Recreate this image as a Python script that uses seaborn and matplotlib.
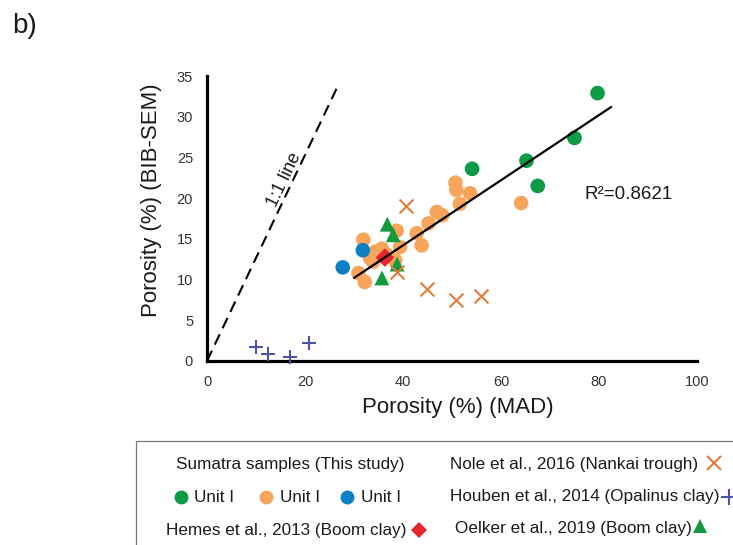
import numpy as np
import matplotlib
matplotlib.use("Agg")
import matplotlib.pyplot as plt
from matplotlib.lines import Line2D
from matplotlib.patches import Rectangle
import seaborn as sns

# Sumatra samples (this study): MAD porosity vs BIB-SEM porosity (%)
green_mad = [54.1, 65.2, 67.5, 75.0, 79.7]
green_bib = [23.6, 24.6, 21.5, 27.4, 32.9]

orange_mad = [30.9, 32.2, 31.9, 33.3, 33.9, 34.3, 35.0, 35.7, 36.8, 38.4,
              38.7, 39.4, 42.8, 43.8, 45.2, 46.9, 48.0, 50.7, 50.9, 51.6,
              53.7, 64.1]
orange_bib = [10.8, 9.7, 14.9, 12.6, 12.2, 13.4, 12.9, 13.8, 13.0, 12.4,
              16.0, 14.0, 15.7, 14.2, 16.9, 18.3, 17.9, 21.9, 21.0, 19.3,
              20.6, 19.4]

blue_mad = [27.7, 31.8]
blue_bib = [11.5, 13.6]

# Published data sets
nole_mad = [40.6, 38.8, 44.8, 50.8, 55.9]
nole_bib = [19.0, 10.9, 8.9, 7.5, 8.0]
houben_mad = [10.0, 12.4, 16.9, 20.9]
houben_bib = [1.7, 0.8, 0.5, 2.2]
hemes_mad = [36.3]
hemes_bib = [12.7]
oelker_mad = [36.8, 38.0, 38.8, 35.7]
oelker_bib = [16.8, 15.5, 11.9, 10.2]

# Linear trend through the Sumatra samples
fit_slope = 0.40
fit_intercept = -1.8
fit_range = [30.0, 82.5]
r_squared = 0.8621

# Reference line
ref_x = [0.0, 26.8]
ref_y = [0.0, 33.9]

x_ticks = [0, 20, 40, 60, 80, 100]
y_ticks = [0, 5, 10, 15, 20, 25, 30, 35]

# Colours
c_green = "#0f9a45"
c_orange = "#f6a55b"
c_blue = "#0b80c6"
c_cross = "#e27c3a"
c_plus = "#4d55a3"
c_red = "#e3262b"
c_tri = "#129a3c"

sns.set_theme(style="white")
plt.rcParams["font.family"] = ["Liberation Sans", "DejaVu Sans"]

W, H = 733, 545
fig = plt.figure(figsize=(W / 100, H / 100), dpi=100)


def fx(px):
    return px / W


def fy(py):
    return 1 - py / H


ax = fig.add_axes([fx(207), fy(361), (697 - 207) / W, (361 - 76) / H])
ax.set_xlim(0, 100)
ax.set_ylim(0, 35)

# 1:1 reference line
ax.plot(ref_x, ref_y, color="black", lw=1.5, linestyle=(0, (5.5, 3.2)), zorder=2)

sc_kw = dict(ax=ax, linewidth=0, edgecolor="none", legend=False, clip_on=False)
sns.scatterplot(x=orange_mad, y=orange_bib, color=c_orange, s=110, marker="o", zorder=3, **sc_kw)
sns.scatterplot(x=blue_mad, y=blue_bib, color=c_blue, s=110, marker="o", zorder=3, **sc_kw)
sns.scatterplot(x=green_mad, y=green_bib, color=c_green, s=112, marker="o", zorder=3, **sc_kw)
sns.scatterplot(x=oelker_mad, y=oelker_bib, color=c_tri, s=115, marker="^", zorder=4, **sc_kw)
sns.scatterplot(x=hemes_mad, y=hemes_bib, color=c_red, s=90, marker="D", zorder=4, **sc_kw)
ax.scatter(nole_mad, nole_bib, color=c_cross, s=100, marker="x", linewidths=1.5, zorder=4, clip_on=False)
ax.scatter(houben_mad, houben_bib, color=c_plus, s=95, marker="+", linewidths=1.5, zorder=4, clip_on=False)

# Trend line
fit_x = np.array(fit_range)
fit_y = fit_slope * fit_x + fit_intercept
sns.lineplot(x=fit_x, y=fit_y, ax=ax, color="black", lw=1.6, zorder=5)

ax.text(77.1, 20.4, f"R\u00b2={r_squared}", fontsize=13.5, ha="left", va="center", color="#1a1a1a")

# Rotated label along the reference line
fig.canvas.draw()
p0 = ax.transData.transform((ref_x[0], ref_y[0]))
p1 = ax.transData.transform((ref_x[1], ref_y[1]))
ang = np.degrees(np.arctan2(p1[1] - p0[1], p1[0] - p0[0]))
ax.text(15.8, 22.2, "1:1 line", rotation=ang, rotation_mode="anchor",
        ha="center", va="center", fontsize=13, color="#1a1a1a")

# Axes styling
ax.set_xticks(x_ticks)
ax.set_yticks(y_ticks)
ax.tick_params(axis="both", length=0, labelsize=10.5, colors="#333333")
ax.tick_params(axis="x", pad=10)
ax.tick_params(axis="y", pad=10)
for s in ["top", "right"]:
    ax.spines[s].set_visible(False)
for s in ["left", "bottom"]:
    ax.spines[s].set_color("black")
    ax.spines[s].set_linewidth(2.3)
ax.grid(False)

ax.set_xlabel("Porosity (%) (MAD)", fontsize=16, color="#1a1a1a")
ax.set_ylabel("Porosity (%) (BIB-SEM)", fontsize=16, color="#1a1a1a")
ax.xaxis.set_label_coords(0.512, -0.128)
ax.yaxis.set_label_coords(-0.092, 0.565)

fig.text(fx(12), fy(33), "b)", fontsize=20, ha="left", va="baseline", color="#1a1a1a")

# Key box
fig.patches.append(Rectangle((fx(136), fy(560)), fx(760) - fx(136), fy(441) - fy(560),
                             transform=fig.transFigure, fill=False,
                             edgecolor="#7a7a7a", lw=0.9))

leg_fs = 12.3
tc = "#1a1a1a"


def key_text(x, y, s, ha="left"):
    fig.text(fx(x), fy(y), s, fontsize=leg_fs, ha=ha, va="center", color=tc)


def key_marker(x, y, marker, color, ms, mew=0.0):
    filled = marker not in ("x", "+")
    fig.add_artist(Line2D([fx(x)], [fy(y)], transform=fig.transFigure,
                          marker=marker, markersize=ms, linestyle="none",
                          markerfacecolor=color if filled else "none",
                          markeredgecolor=color, markeredgewidth=mew if not filled else 0))


key_text(290, 464, "Sumatra samples (This study)", ha="center")
key_marker(181, 497, "o", c_green, 10)
key_text(194, 497, "Unit I")
key_marker(266, 497, "o", c_orange, 10)
key_text(280, 497, "Unit I")
key_marker(347, 497, "o", c_blue, 10)
key_text(361, 497, "Unit I")
key_text(166, 530, "Hemes et al., 2013 (Boom clay)")
key_marker(419, 530, "D", c_red, 8)

key_text(450, 464, "Nole et al., 2016 (Nankai trough)")
key_marker(714, 463, "x", c_cross, 10, 1.5)
key_text(450, 497, "Houben et al., 2014 (Opalinus clay)")
key_marker(729, 497, "+", c_plus, 11, 1.5)
key_text(455, 528, "Oelker et al., 2019 (Boom clay)")
key_marker(700, 526, "^", c_tri, 10.5)

fig.savefig("out.png", dpi=100)
